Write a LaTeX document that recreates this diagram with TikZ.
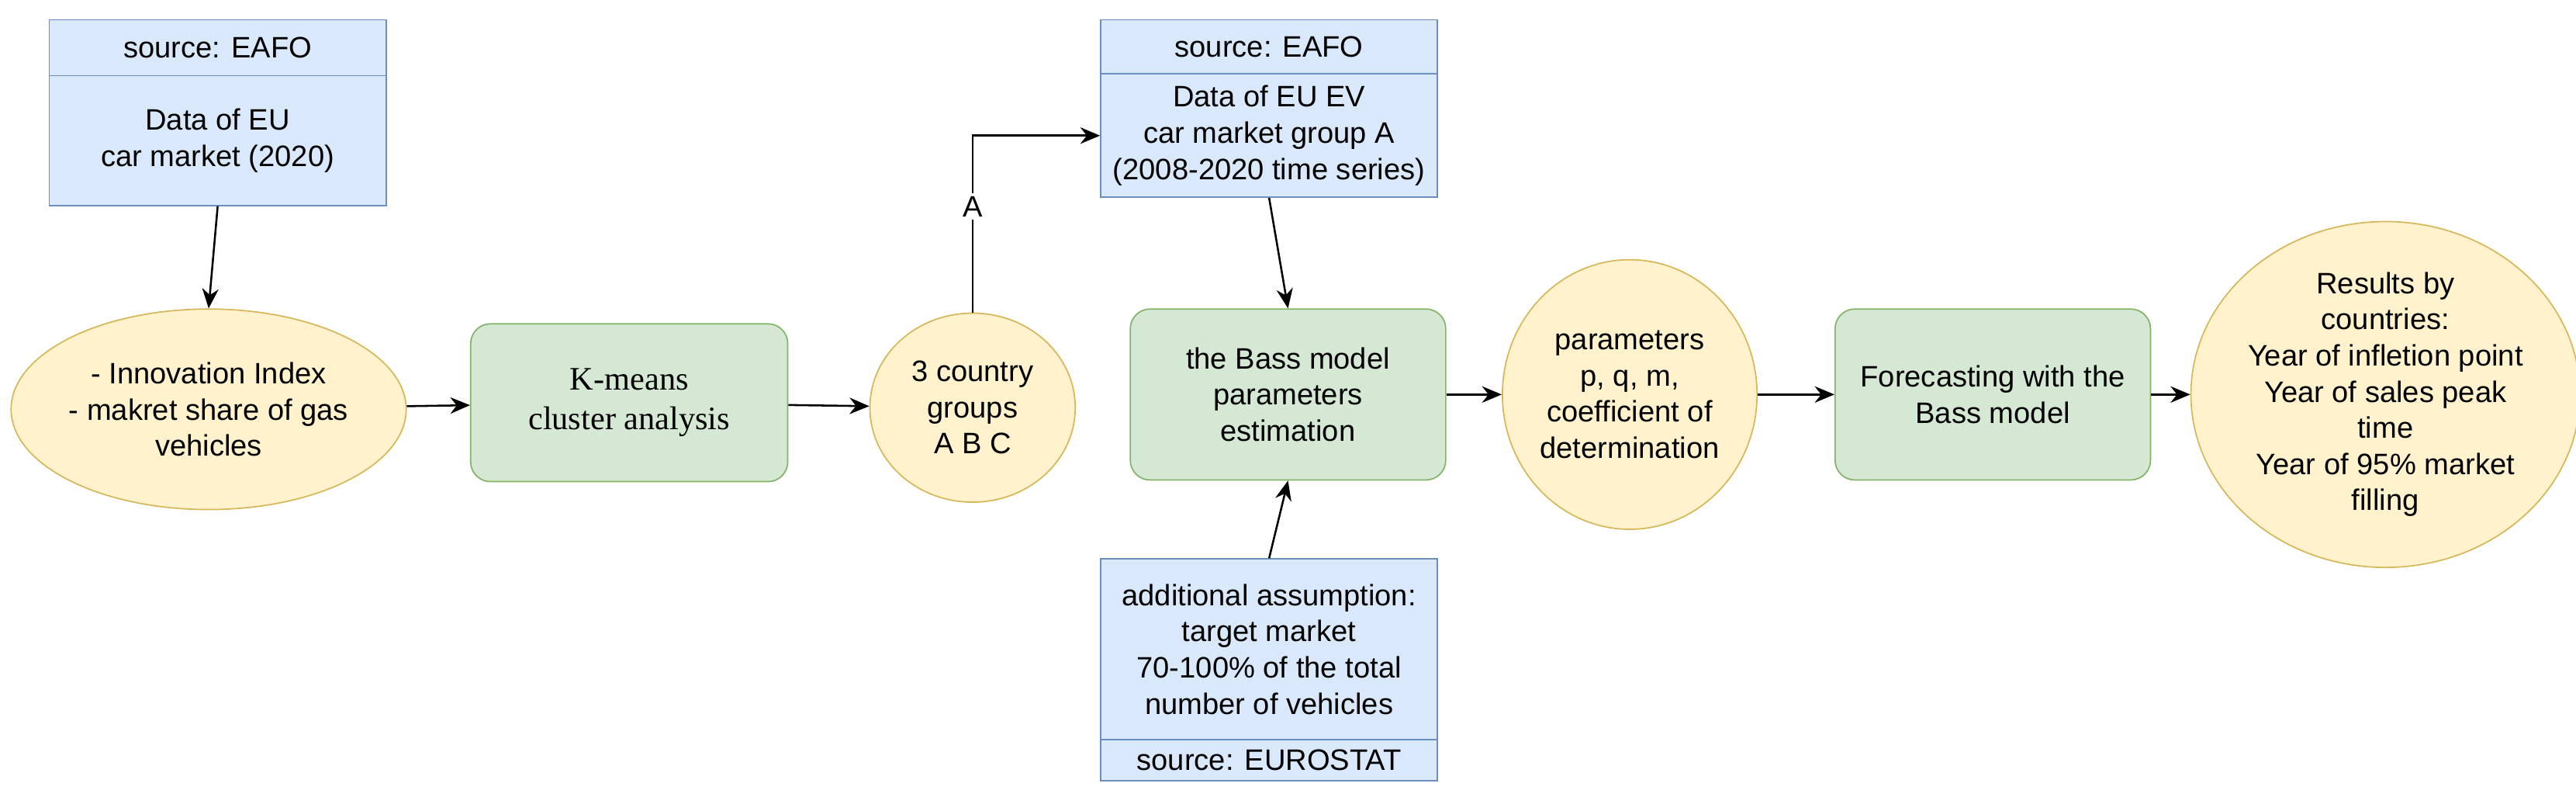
\documentclass[tikz,border=0pt]{standalone}
\usepackage{fontspec}
\setmainfont{Liberation Sans}
\newfontfamily\serifk{Liberation Serif}
\usetikzlibrary{shapes.geometric,arrows.meta}
\definecolor{bluef}{HTML}{DAE8FC}\definecolor{blued}{HTML}{6C8EBF}
\definecolor{greenf}{HTML}{D5E8D4}\definecolor{greend}{HTML}{82B366}
\definecolor{yellf}{HTML}{FFF2CC}\definecolor{yelld}{HTML}{D6B656}
\tikzset{
	src/.style={draw=blued, fill=bluef, rectangle, minimum width=102.5pt, align=center, inner sep=0pt, font=\fontsize{9}{11}\selectfont},
	proc/.style={draw=greend, fill=greenf, rectangle, rounded corners=6pt, minimum width=96pt, minimum height=52pt, align=center, inner sep=0pt, font=\fontsize{9}{11}\selectfont},
	res/.style={draw=yelld, fill=yellf, ellipse, align=center, inner sep=0pt, font=\fontsize{9}{11}\selectfont},
	arr/.style={-{Stealth[length=6pt,width=5pt]}, line width=0.6pt}
}
\begin{document}
\begin{tikzpicture}[x=0.5pt, y=-0.5pt]
		\useasboundingbox ( 0, 0 ) rectangle ( 1568, 493 );
		% источники данных
		\node [src, minimum height=17pt] (b1h) at ( 132.5, 29 ) {source: EAFO};
		\node [src, minimum height=39.5pt] (b1) at ( 132.5, 85.5 ) {Data of EU\\car market (2020)};
		\node [src, minimum height=16.5pt] (b2h) at ( 772.5, 28.5 ) {source: EAFO};
		\node [src, minimum height=37.5pt] (b2) at ( 772.5, 82.5 ) {Data of EU EV\\car market group A\\(2008-2020 time series)};
		\node [src, minimum height=55pt] (b3) at ( 772.5, 395 ) {additional assumption:\\target market\\70-100\% of the total\\number of vehicles};
		\node [src, minimum height=12.5pt] (b3f) at ( 772.5, 462.5 ) {source: EUROSTAT};

		% шаги и результаты
		\node [res, minimum width=113pt, minimum height=61pt] (e1) at ( 127, 249 ) {- Innovation Index\\- makret share of gas\\vehicles};
		\node [proc, minimum width=96.5pt, minimum height=48pt, font=\serifk\fontsize{10}{12}\selectfont] (km) at ( 383, 245 ) {K-means\\cluster analysis};
		\node [res, minimum width=62.5pt, minimum height=57.5pt] (e3) at ( 592, 248 ) {3 country\\groups\\A B C};
		\node [proc] (bass) at ( 784, 240 ) {the Bass model\\parameters\\estimation};
		\node [res, minimum width=77.5pt, minimum height=82pt] (e4) at ( 992, 240 ) {parameters\\p, q, m,\\coefficient of\\determination};
		\node [proc] (fc) at ( 1213, 240 ) {Forecasting with the\\Bass model};
		\node [res, minimum width=100pt, minimum height=105pt] (e5) at ( 1452, 240 ) {Results by\\countries:\\Year of infletion point\\Year of sales peak\\time\\Year of 95\% market\\filling};

		% связи
		\draw [arr] (b1.south) -- (e1.north);
		\draw [arr] (e1) -- (km);
		\draw [arr] (km) -- (e3);
		\draw [arr] (e3.north) |- node [pos=0.3, fill=white, inner sep=1pt, font=\fontsize{9}{11}\selectfont] {A} (b2.west);
		\draw [arr] (b2.south) -- (bass.north);
		\draw [arr] (b3.north) -- (bass.south);
		\draw [arr] (bass) -- (e4);
		\draw [arr] (e4) -- (fc);
		\draw [arr] (fc) -- (e5);
\end{tikzpicture}
\end{document}
